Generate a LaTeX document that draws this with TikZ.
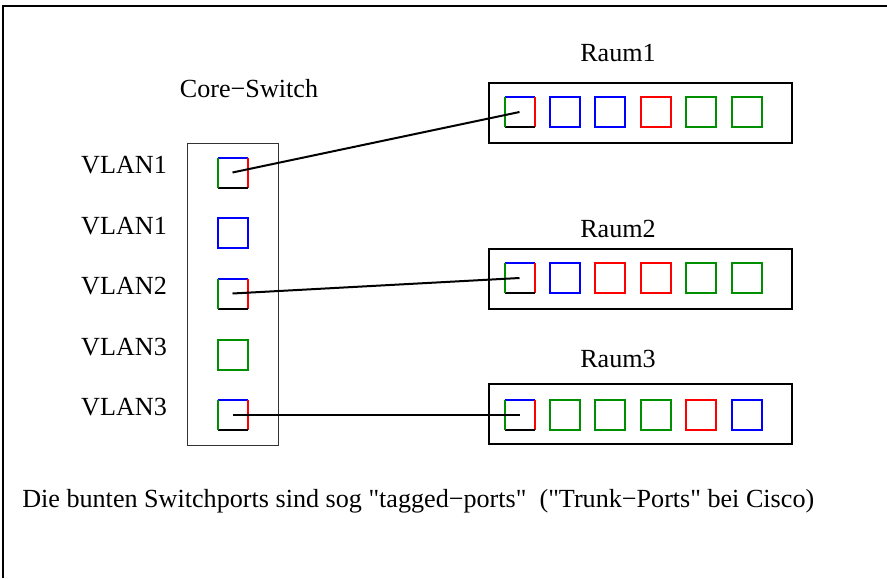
\documentclass[tikz,border=0pt]{standalone}
\usepackage{fontspec}
\setmainfont{Liberation Serif}[Ligatures=TeXOff]
\definecolor{portgreen}{rgb}{0,0.56,0}
\tikzset{
  port/.style={minimum size=22.5pt, inner sep=0pt, outer sep=0pt, line width=1.5pt},
  side/.style={line width=1.5pt},
  link/.style={line width=1.5pt},
  roombox/.style={draw, line width=1.5pt, minimum width=227pt, minimum height=45pt, inner sep=0pt},
  txt/.style={font=\fontsize{19.6}{24}\selectfont, inner sep=0pt},
}
\newcommand{\trunkport}[1]{%
  \draw[side,blue] (#1.north west) -- (#1.north east);
  \draw[side,red] (#1.north east) -- (#1.south east);
  \draw[side,black] (#1.south east) -- (#1.south west);
  \draw[side,portgreen] (#1.south west) -- (#1.north west);
}

\begin{document}
\begin{tikzpicture}[x=0.75pt, y=-0.75pt]
        \useasboundingbox (0,0) rectangle (887,578);

        % frame
        \draw[line width=1.5pt] (3,578) -- (3,6) -- (887,6);

        % core switch
        \draw[line width=0.75pt, black!80] (187,143) rectangle (278,445);
        \node[txt, anchor=base] (coretitle) at (249,97) {Core−Switch};

        \node[port] (c1) at (232.5,172.5) {};
        \node[port, draw=blue] (c2) at (232.5,233) {};
        \node[port] (c3) at (232.5,293.5) {};
        \node[port, draw=portgreen] (c4) at (232.5,354.5) {};
        \node[port] (c5) at (232.5,414.5) {};
        \trunkport{c1}
        \trunkport{c3}
        \trunkport{c5}

        \node[txt, anchor=base] (v1) at (124,173) {VLAN1};
        \node[txt, anchor=base] (v2) at (124,234) {VLAN1};
        \node[txt, anchor=base] (v3) at (124,294) {VLAN2};
        \node[txt, anchor=base] (v4) at (124,355) {VLAN3};
        \node[txt, anchor=base] (v5) at (124,415) {VLAN3};

        % rooms
        \node[roombox] (raum1) at (640.5,112.5) {};
        \node[roombox] (raum2) at (640.5,279) {};
        \node[roombox] (raum3) at (640.5,414) {};
        \node[txt, anchor=base] (raum1label) at (618,61) {Raum1};
        \node[txt, anchor=base] (raum2label) at (618,237) {Raum2};
        \node[txt, anchor=base] (raum3label) at (618,367) {Raum3};

        \node[port] (r1p0) at (519.5,112) {};
        \node[port] (r2p0) at (519.5,278) {};
        \node[port] (r3p0) at (519.5,414.5) {};
        \trunkport{r1p0}
        \trunkport{r2p0}
        \trunkport{r3p0}
        \foreach \col [count=\i] in {blue,blue,red,portgreen,portgreen}
          \node[port, draw=\col] (r1p\i) at ({519.5+45.4*\i},112) {};
        \foreach \col [count=\i] in {blue,red,red,portgreen,portgreen}
          \node[port, draw=\col] (r2p\i) at ({519.5+45.4*\i},278) {};
        \foreach \col [count=\i] in {portgreen,portgreen,portgreen,red,blue}
          \node[port, draw=\col] (r3p\i) at ({519.5+45.4*\i},414.5) {};

        % trunk links
        \draw[link] (c1.center) -- (r1p0.center);
        \draw[link] (c3.center) -- (r2p0.center);
        \draw[link] (c5.center) -- (r3p0.center);

        \node[txt, anchor=base west] (note) at (22,507)
          {Die bunten Switchports sind sog "tagged−ports"\ \ ("Trunk−Ports" bei Cisco)};
\end{tikzpicture}
\end{document}
